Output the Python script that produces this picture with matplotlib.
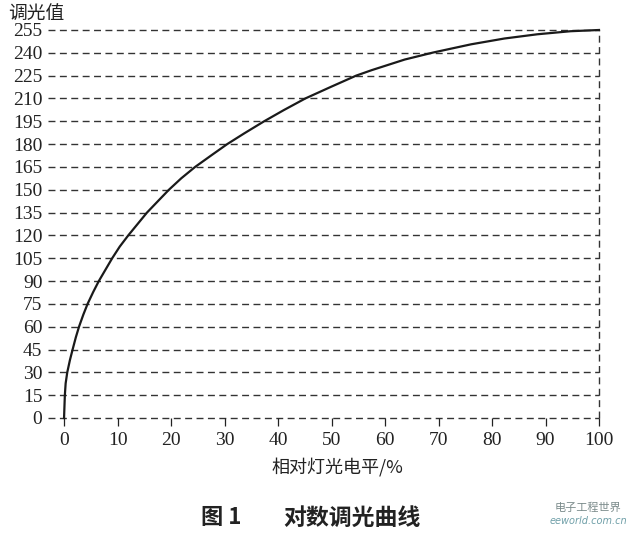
import numpy as np
import matplotlib
matplotlib.use("Agg")
import matplotlib.pyplot as plt

plt.rcParams['font.family'] = ['Liberation Serif', 'Noto Sans CJK SC']

# curve points (relative level %, dimming value)
level = [0, 0.15, 0.3, 0.6, 1.1, 1.6, 2.2, 2.8, 3.6, 4.4, 5.45, 6.5, 9.0,
         10.4, 12.0, 15.5, 17.9, 19.6, 21.9, 24.5, 27.6, 30.5, 33.7, 37.4,
         41.1, 45.1, 49.8, 54.6, 57.5, 63.7, 69.0, 76.1, 82.3, 88.5, 94.7, 100]
value = [0, 15, 22.8, 30, 38.1, 45, 53, 60, 67.9, 75, 82.8, 90, 105,
         112.6, 120, 135, 143.8, 150, 157.5, 165, 172.8, 180, 187.1, 195,
         202.4, 210, 217.5, 225, 228.6, 235.6, 240.2, 245.6, 249.4, 252.2, 254.2, 255]

y_ticks = list(range(0, 256, 15))
x_ticks = list(range(0, 101, 10))

fig = plt.figure(figsize=(6.26, 5.36), dpi=100)
ax = fig.add_axes([48 / 626, 1 - 418 / 536, (599 - 48) / 626, (418 - 30) / 536])
ax.set_xlim(-3, 100)
ax.set_ylim(0, 255)

# dashed reference lines
for yv in y_ticks:
    ax.plot([-3, 100], [yv, yv], color='#333333', lw=1.0, dashes=(5, 3.2),
            clip_on=False, zorder=1)
ax.plot([100, 100], [0, 255], color='#333333', lw=1.0, dashes=(5, 3.2),
        clip_on=False, zorder=1)

ax.plot(level, value, color='#1a1a1a', lw=1.6, clip_on=False, zorder=3,
        solid_joinstyle='round')

for s in ax.spines.values():
    s.set_visible(False)

ax.set_yticks(y_ticks)
ax.set_xticks(x_ticks)
ax.tick_params(axis='y', length=0, pad=4, labelsize=14, colors='#222222')
ax.tick_params(axis='x', direction='out', length=6, width=0.9, pad=4,
               labelsize=14, colors='#222222')

fig.text(36 / 626, 1 - 13 / 536, '调光值', fontsize=13.5, ha='center', va='center',
         family=['Noto Sans CJK SC'], color='#222222')
fig.text(337 / 626, 1 - 467 / 536, '相对灯光电平/%', fontsize=13, ha='center',
         va='center', family=['Noto Sans CJK SC'], color='#222222')

fig.text(221 / 626, 1 - 518 / 536, '图 1', fontsize=16, ha='center', va='center',
         family=['Noto Sans CJK SC'], weight='bold', color='#222222')
fig.text(352 / 626, 1 - 518 / 536, '对数调光曲线', fontsize=16.5, ha='center',
         va='center', family=['Noto Sans CJK SC'], weight='bold', color='#222222')

# watermark
fig.text(588 / 626, 1 - 508 / 536, '电子工程世界', fontsize=8, ha='center',
         va='center', family=['Noto Sans CJK SC'], color='#7a8a8a')
fig.text(588 / 626, 1 - 521 / 536, 'eeworld.com.cn', fontsize=7, ha='center',
         va='center', family=['DejaVu Sans'], style='italic', color='#6f9fa8')

fig.savefig('out.png', dpi=100)
